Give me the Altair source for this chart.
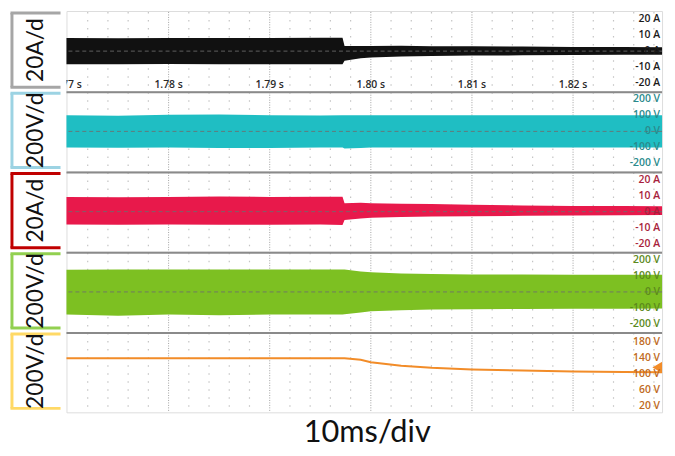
import altair as alt
import pandas as pd

# ---- time knots of the sampled envelopes (s) ----
T = [1.7699, 1.7750, 1.7800, 1.7850, 1.7900, 1.7950, 1.7972, 1.7974, 1.7990,
     1.8000, 1.8030, 1.8060, 1.8100, 1.8150, 1.8200, 1.8250, 1.8288]

# channel 1: current, 20 A/div (black)
ch1_hi = [8.2, 8.0, 8.2, 8.1, 8.2, 8.3, 8.3, 3.2, 3.2, 3.2, 3.3, 3.1, 3.0, 2.9, 2.6, 2.5, 2.4]
ch1_lo = [-8.2, -8.2, -8.0, -8.2, -8.1, -8.2, -8.2, -6.0, -4.5, -4.0, -3.4, -3.0, -2.8, -2.6, -2.4, -2.3, -2.2]
# channel 2: voltage, 200 V/div (cyan)
ch2_hi = [100, 98, 104, 106, 100, 99, 100, 100, 101, 100, 100, 101, 100, 100, 101, 100, 100]
ch2_lo = [-100, -102, -100, -104, -103, -100, -101, -106, -103, -101, -100, -100, -101, -100, -100, -101, -100]
# channel 3: current, 20 A/div (red)
ch3_hi = [9.2, 9.0, 9.2, 9.4, 9.2, 9.3, 9.3, 5.3, 5.5, 5.3, 5.0, 4.7, 4.3, 3.9, 3.6, 3.5, 3.4]
ch3_lo = [-8.0, -8.2, -8.0, -8.1, -8.2, -8.0, -8.3, -5.2, -4.2, -3.8, -3.3, -3.0, -2.8, -2.6, -2.4, -2.2, -2.1]
# channel 4: voltage, 200 V/div (green)
ch4_hi = [138, 140, 139, 140, 140, 139, 140, 139, 128, 122, 115, 111, 109, 108, 107, 107, 107]
ch4_lo = [-140, -148, -140, -146, -140, -141, -140, -139, -128, -120, -114, -110, -108, -106, -105, -104, -103]
# channel 5: DC voltage, 200 V/div (orange)
ch5 = [140, 140, 140, 140, 140, 140, 140, 140, 136, 130, 121, 116, 112, 109, 107, 105.5, 105]
marker_t = [1.8284]
marker_v = [117]

left_labels = ["20A/d", "200V/d", "20A/d", "200V/d", "200V/d"]
y_ticks = [[-20, -10, 0, 10, 20], [-200, -100, 0, 100, 200], [-20, -10, 0, 10, 20],
           [-200, -100, 0, 100, 200], [20, 60, 100, 140, 180]]
y_units = ["A", "V", "A", "V", "V"]
y_domains = [[-25, 25], [-250, 250], [-25, 25], [-250, 250], [5, 205]]

time_ticks = [1.77, 1.78, 1.79, 1.80, 1.81, 1.82]
time_texts = ["1.77 s", "1.78 s", "1.79 s", "1.80 s", "1.81 s", "1.82 s"]
major_grid = [1.78, 1.79, 1.80, 1.81, 1.82]
minor_grid = [round(1.770 + 0.002 * k, 3) for k in range(30) if k % 5 != 0]

wave_colors = ["#111111", "#1FBEC3", "#E8194B", "#7DC022", "#F28C28"]
label_colors = ["#1a1a1a", "#2A8A8C", "#A81E3C", "#5C8A1C", "#C06A22"]
box_colors = ["#A6A6A6", "#9CD3E3", "#C00000", "#92D050", "#FFD966"]
bottom_title = "10ms/div"

W = 601
H = 81
t_dom = [T[0], T[-1]]
one = pd.DataFrame({"k": [0]})


def xenc():
    return alt.X("t:Q", scale=alt.Scale(domain=t_dom, nice=False, zero=False), axis=None)


def yscale(i):
    return alt.Scale(domain=y_domains[i], nice=False, zero=False)


series_hi = [ch1_hi, ch2_hi, ch3_hi, ch4_hi]
series_lo = [ch1_lo, ch2_lo, ch3_lo, ch4_lo]

panels = []
for i in range(5):
    layers = []
    # minor dotted grid
    layers.append(
        alt.Chart(pd.DataFrame({"t": minor_grid})).mark_rule(color="#c4c4c4", strokeDash=[1.5, 6.6], strokeWidth=1.2)
        .encode(x=xenc(), y=alt.value(1), y2=alt.value(H - 1))
    )
    # major dotted grid
    layers.append(
        alt.Chart(pd.DataFrame({"t": major_grid})).mark_rule(color="#a0a0a0", strokeDash=[1, 1.5], strokeWidth=1)
        .encode(x=xenc(), y=alt.value(1), y2=alt.value(H - 1))
    )
    if i < 4:
        df = pd.DataFrame({"t": T, "hi": series_hi[i], "lo": series_lo[i]})
        layers.append(
            alt.Chart(df).mark_area(color=wave_colors[i], opacity=1)
            .encode(x=xenc(), y=alt.Y("lo:Q", scale=yscale(i), axis=None), y2="hi:Q")
        )
        layers.append(
            alt.Chart(pd.DataFrame({"z": [0]})).mark_rule(color="#6e6e6e", strokeDash=[4, 3], strokeWidth=1, opacity=0.85)
            .encode(y=alt.Y("z:Q", scale=yscale(i), axis=None))
        )
    else:
        df = pd.DataFrame({"t": T, "v": ch5})
        layers.append(
            alt.Chart(df).mark_line(color=wave_colors[i], strokeWidth=2)
            .encode(x=xenc(), y=alt.Y("v:Q", scale=yscale(i), axis=None))
        )
        layers.append(
            alt.Chart(pd.DataFrame({"t": marker_t, "v": marker_v}))
            .mark_point(shape="triangle-left", filled=True, color=wave_colors[i], size=170, opacity=1, clip=True)
            .encode(x=xenc(), y=alt.Y("v:Q", scale=yscale(i), axis=None))
        )
        layers.append(
            alt.Chart(pd.DataFrame({"s": [bottom_title]}))
            .mark_text(font="Lato", fontSize=31, color="#111111", align="center", baseline="middle")
            .encode(x=alt.value(W / 2 + 3), y=alt.value(H + 21), text="s:N")
        )
    # right-hand scale labels
    lab_df = pd.DataFrame({"y": y_ticks[i], "s": [f"{v} {y_units[i]}" for v in y_ticks[i]]})
    layers.append(
        alt.Chart(lab_df).mark_text(font="Open Sans", fontSize=10.5, fontWeight=600, color=label_colors[i],
                                    align="right", baseline="middle")
        .encode(x=alt.value(W - 2), y=alt.Y("y:Q", scale=yscale(i), axis=None), text="s:N")
    )
    if i == 0:
        layers.append(
            alt.Chart(pd.DataFrame({"t": time_ticks, "s": time_texts}))
            .mark_text(font="Open Sans", fontSize=10.5, fontWeight=600, color="#2a2a2a", clip=True,
                       align="center", baseline="middle")
            .encode(x=xenc(), y=alt.value(H - 6), text="s:N")
        )
    else:
        layers.append(
            alt.Chart(one).mark_rule(color="#8a8a8a", strokeWidth=2)
            .encode(x=alt.value(0), x2=alt.value(W), y=alt.value(1))
        )
    # left bracket box with channel scale
    bc = box_colors[i]
    layers.append(alt.Chart(one).mark_rule(color=bc, strokeWidth=3)
                  .encode(x=alt.value(-55), y=alt.value(2), y2=alt.value(H - 4)))
    layers.append(alt.Chart(one).mark_rule(color=bc, strokeWidth=3)
                  .encode(x=alt.value(-56.5), x2=alt.value(-6), y=alt.value(2)))
    layers.append(alt.Chart(one).mark_rule(color=bc, strokeWidth=3)
                  .encode(x=alt.value(-56.5), x2=alt.value(-6), y=alt.value(H - 4)))
    layers.append(
        alt.Chart(pd.DataFrame({"s": [left_labels[i]]}))
        .mark_text(font="Lato", fontSize=23, color="#111111", angle=270, align="center", baseline="middle")
        .encode(x=alt.value(-31), y=alt.value(H / 2 - 1), text="s:N")
    )
    panels.append(alt.layer(*layers).properties(width=W, height=H))

chart = (
    alt.vconcat(*panels, spacing=0, bounds="flush")
    .properties(padding={"left": 0, "top": 0, "right": 0, "bottom": 0})
    .configure_view(stroke=None)
    .configure(background="white")
)

chart.save("out.html", embed_options={"renderer": "svg", "actions": False})
